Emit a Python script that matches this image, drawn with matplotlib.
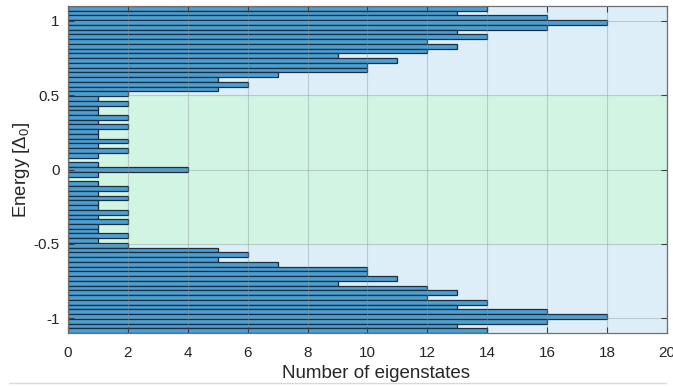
import numpy as np
import matplotlib
matplotlib.use("Agg")
import matplotlib.pyplot as plt
from matplotlib.lines import Line2D

plt.rcParams['font.family'] = ['Liberation Sans', 'DejaVu Sans']
plt.rcParams['mathtext.fontset'] = 'custom'
plt.rcParams['mathtext.rm'] = 'Liberation Sans'
plt.rcParams['mathtext.it'] = 'Liberation Sans:italic'

# Histogram counts from top (E ~ 1.1) to bottom (E ~ -1.1)
upper_counts = [14, 13, 16, 18, 16, 13, 14, 12, 13, 12, 9, 11, 10, 10, 7, 5, 6, 5,
                2, 1, 2, 1, 1, 2, 1, 2, 1, 1, 2, 1, 2, 1, 0, 1]
center_count = [4]
lower_counts = upper_counts[::-1]
counts_top_down = upper_counts + center_count + lower_counts

e_min, e_max = -1.1, 1.1
gap_lo, gap_hi = -0.5, 0.5
xticks = list(range(0, 21, 2))
yticks = [-1, -0.5, 0, 0.5, 1]
ytick_labels = ['-1', '-0.5', '0', '0.5', '1']

n = len(counts_top_down)
edges = np.linspace(e_max, e_min, n + 1)
centers = (edges[:-1] + edges[1:]) / 2
width = abs(edges[1] - edges[0])

fig = plt.figure(figsize=(6.73, 3.87), dpi=100)
ax = fig.add_axes([0.101, 0.1395, 0.890, 0.845])

ax.set_facecolor('#ddeef9')
ax.axhspan(gap_lo, gap_hi, color='#d2f4e2', zorder=0)

ax.barh(centers, counts_top_down, height=width, color='#4b9fd2',
        edgecolor='#1c2f40', linewidth=0.9, zorder=1)

ax.set_xlim(0, 20)
ax.set_ylim(e_min, e_max)
ax.set_xticks(xticks)
ax.set_yticks(yticks)
ax.set_yticklabels(ytick_labels)
ax.grid(True, color='#8a9595', alpha=0.4, linewidth=0.8, zorder=3)
ax.set_axisbelow(False)
ax.tick_params(direction='in', length=4, width=0.8, color='#404040',
               labelsize=11, labelcolor='#262626', right=True, top=True)
ax.tick_params(axis='x', pad=9)
ax.tick_params(axis='y', pad=6)
for s in ax.spines.values():
    s.set_color('#707070')
    s.set_linewidth(0.9)
    s.set_zorder(4)

ax.set_xlabel('Number of eigenstates', fontsize=13.5, color='#262626')
ax.xaxis.set_label_coords(0.514, -0.098)
ax.set_ylabel(r'Energy [$\mathrm{\Delta}_0$]', fontsize=13.5, color='#262626', labelpad=1)

fig.add_artist(Line2D([0.013, 0.99], [0.0105, 0.0105], transform=fig.transFigure,
                      color='#d9d9d9', linewidth=1))

fig.savefig('out.png', dpi=100)
